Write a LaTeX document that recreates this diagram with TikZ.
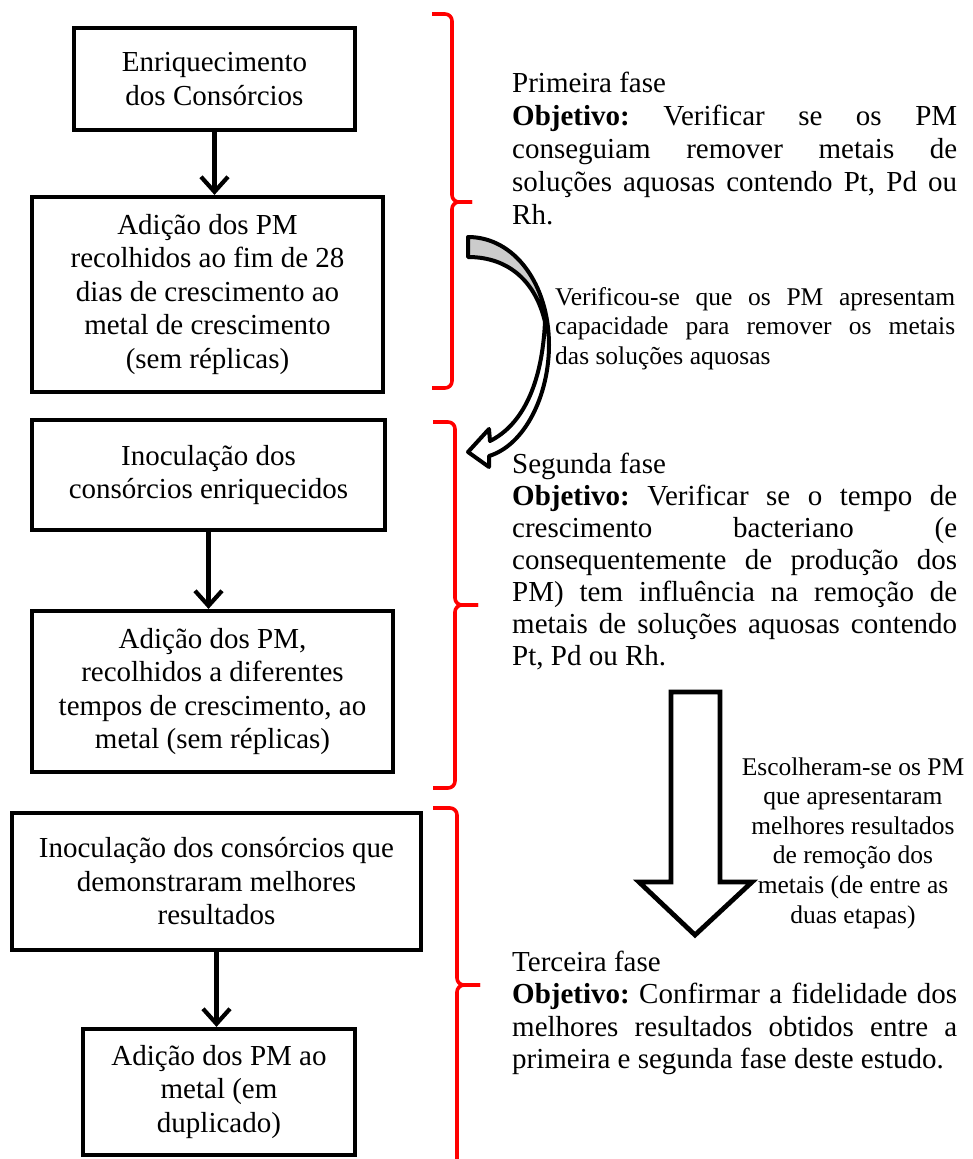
\documentclass[tikz,border=0pt]{standalone}
\usepackage{fontspec}
\setmainfont{Liberation Serif}
\usetikzlibrary{arrows.meta}
\definecolor{foldgray}{gray}{0.8}
\frenchspacing
\begin{document}
\begin{tikzpicture}[x=1pt,y=-1pt,
  stepbox/.style={draw, line width=4.2pt, align=center, inner sep=2pt,
    font=\fontsize{29}{33.5}\selectfont},
  flow/.style={line width=4.2pt, -{Straight Barb[length=15pt,width=27pt]}},
  brace/.style={draw=red, line width=3.6pt, rounded corners=7pt},
  bigtext/.style={anchor=base west, inner sep=0pt},
  smalltext/.style={inner sep=0pt, font=\fontsize{25.5}{29.6}\selectfont},
  blockarrow/.style={draw, line width=4.8pt, fill=white, line join=miter}]
\useasboundingbox (0,0) rectangle (973,1159);

% left column: steps of the study
\node[stepbox, minimum width=281pt, minimum height=102pt] (b1) at (214.5,79)
  {Enriquecimento\\dos Consórcios};
\node[stepbox, minimum width=351pt, minimum height=195pt] (b2) at (207.5,294.5)
  {Adição dos PM\\recolhidos ao fim de 28\\dias de crescimento ao\\metal de crescimento\\(sem réplicas)};
\node[stepbox, minimum width=353pt, minimum height=110pt] (b3) at (208.5,475)
  {Inoculação dos\\consórcios enriquecidos};
\node[stepbox, minimum width=361pt, minimum height=161pt] (b4) at (212.5,691.5)
  {Adição dos PM,\\recolhidos a diferentes\\tempos de crescimento, ao\\metal (sem réplicas)};
\node[stepbox, minimum width=409pt, minimum height=137pt] (b5) at (216.5,881.5)
  {Inoculação dos consórcios que\\demonstraram melhores\\resultados};
\node[stepbox, minimum width=272pt, minimum height=126pt] (b6) at (219,1092)
  {Adição dos PM ao\\metal (em\\duplicado)};

\draw[flow] (b1.south) -- (b1.south |- b2.north);
\draw[flow] (b3.south) -- (b3.south |- b4.north);
\draw[flow] (b5.south) -- (b5.south |- b6.north);

% red braces grouping each phase
\draw[brace] (432,14) -- (452,14) -- (452,202) -- (472,202);
\draw[brace] (472,202) -- (452,202) -- (452,388) -- (432,388);
\draw[brace] (433,422) -- (455,422) -- (455,605) -- (478,605);
\draw[brace] (478,605) -- (455,605) -- (455,788) -- (433,788);
\draw[brace] (433,808) -- (457,808) -- (457,985) -- (480,985);
\draw[brace] (480,985) -- (457,985) -- (457,1170);

% phase descriptions
\node[bigtext, font=\fontsize{29}{33.2}\selectfont] (f1) at (512,92) {\parbox[t]{445pt}{\sloppy
  Primeira fase\par
  \textbf{Objetivo:} Verificar se os PM\linebreak
  conseguiam remover metais de\linebreak
  soluções aquosas contendo Pt, Pd ou\linebreak
  Rh.}};
\node[bigtext, font=\fontsize{29}{32}\selectfont] (f2) at (512,473) {\parbox[t]{445pt}{\sloppy
  Segunda fase\par
  \textbf{Objetivo:} Verificar se o tempo de\linebreak
  crescimento bacteriano (e\linebreak
  consequentemente de produção dos\linebreak
  PM) tem influência na remoção de\linebreak
  metais de soluções aquosas contendo\linebreak
  Pt, Pd ou Rh.}};
\node[bigtext, font=\fontsize{29}{32.5}\selectfont] (f3) at (512,971) {\parbox[t]{445pt}{\sloppy
  Terceira fase\par
  \textbf{Objetivo:} Confirmar a fidelidade dos\linebreak
  melhores resultados obtidos entre a\linebreak
  primeira e segunda fase deste estudo.}};

% curved arrow from the first to the second phase
\path[fill=white] (468,237) .. controls (515,237) and (549,285) .. (549,345)
  .. controls (549,395) and (525,445) .. (489,456)
  -- (489,467) -- (468,452) -- (489,429) -- (490,441)
  .. controls (522,425) and (542,385) .. (545,322)
  .. controls (536,283) and (510,257) .. (468,257) -- cycle;
\fill[foldgray] (468,237) .. controls (515,237) and (549,285) .. (549,345)
  -- (545,322) .. controls (536,283) and (510,257) .. (468,257) -- cycle;
\draw[line width=4pt, line join=round] (468,237) .. controls (515,237) and (549,285) .. (549,345)
  .. controls (549,395) and (525,445) .. (489,456)
  -- (489,467) -- (468,452) -- (489,429) -- (490,441)
  .. controls (522,425) and (542,385) .. (545,322)
  .. controls (536,283) and (510,257) .. (468,257) -- cycle;
\node[smalltext, anchor=base west] (n1) at (555,305) {\parbox[t]{400pt}{\sloppy
  Verificou-se que os PM apresentam\linebreak
  capacidade para remover os metais\linebreak
  das soluções aquosas}};

% block arrow from the second to the third phase
\draw[blockarrow] (671,692) -- (720,692) -- (720,882) -- (752,882) -- (695,935)
  -- (639,882) -- (671,882) -- cycle;
\node[smalltext, anchor=base] (n2) at (853,775) {\parbox[t]{230pt}{\centering
  Escolheram-se os PM\\que apresentaram\\melhores resultados\\de remoção dos\\metais (de entre as\\duas etapas)}};
\end{tikzpicture}
\end{document}
